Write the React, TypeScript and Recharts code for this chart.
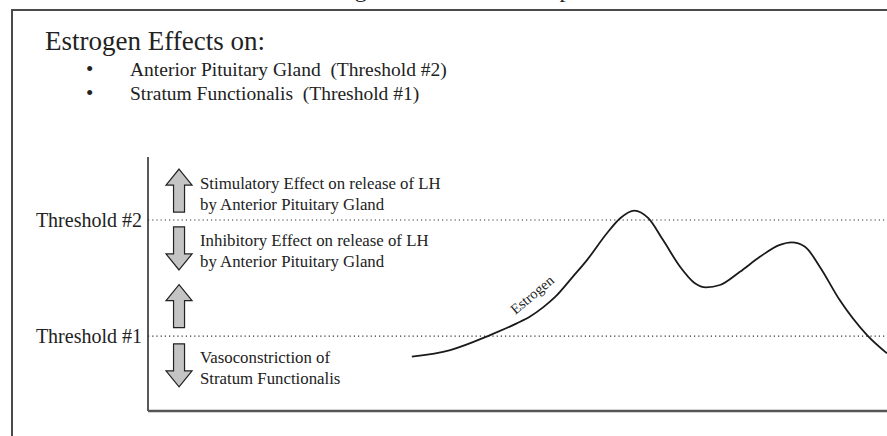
import React from 'react';
import { LineChart, Line, XAxis, YAxis, ReferenceLine, ReferenceDot } from 'recharts';

// estrogen curve, x = time (0..100), y = level (0..100)
const curveX = [35.7, 40.9, 46.3, 49.9, 51.7, 53.5, 55.1, 57.5, 59.4, 62.1, 63.9, 65.8, 67.7, 69.7, 72.0, 74.0, 75.5, 77.4, 80.1, 82.8, 85.5, 87.1, 88.9, 90.9, 93.6, 97.3, 100];
const curveY = [21.4, 24.0, 29.9, 34.5, 37.2, 40.9, 44.9, 52.9, 59.4, 70.0, 75.9, 78.9, 75.9, 67.3, 56.8, 50.3, 48.7, 49.6, 54.8, 60.7, 65.4, 66.4, 64.7, 56.8, 43.7, 29.9, 22.7];

const thresholdNames = ['Threshold #2', 'Threshold #1'];
const thresholdLevels = [75.2, 29.5];

const arrowX = 4.2;
const arrowDirs = ['up', 'down', 'up', 'down'];
const arrowLevels = [86.8, 64.0, 41.3, 18.0];
const arrowNotes = [
    ['Stimulatory Effect on release of LH', 'by Anterior Pituitary Gland'],
    ['Inhibitory Effect on release of LH', 'by Anterior Pituitary Gland'],
    [],
    ['Vasoconstriction of', 'Stratum Functionalis'],
];

const curveLabel = 'Estrogen';
const curveLabelAt = { x: 52.4, y: 44.3 };

const heading = 'Estrogen Effects on:';
const bullets = ['Anterior Pituitary Gland\u00a0 (Threshold #2)', 'Stratum Functionalis\u00a0 (Threshold #1)'];
const pageTitle = 'Estrogen Threshold Concept';

const data = curveX.map((x, i) => ({ x, y: curveY[i] }));
const serif = "'Liberation Serif', 'Times New Roman', serif";
const txt = { fontFamily: serif, fill: '#222' };

const Arrow = (props: any) => {
    const { cx, cy, dir, notes } = props;
    const h = 21.5;
    const hw = 13;
    const sw = 5.5;
    const s = dir === 'up' ? 1 : -1;
    const neck = cy - s * 5.5;
    const pts = [
        [cx, cy - s * h],
        [cx + hw, neck],
        [cx + sw, neck],
        [cx + sw, cy + s * h],
        [cx - sw, cy + s * h],
        [cx - sw, neck],
        [cx - hw, neck],
    ]
        .map((p) => p.join(','))
        .join(' ');
    return (
        <g>
            <polygon points={pts} fill="#c4c4c4" stroke="#222" strokeWidth={1.2} />
            {notes.map((t: string, i: number) => (
                <text key={i} x={cx + 21} y={cy - 2 + i * 21} fontSize={16.8} style={txt}>
                    {t}
                </text>
            ))}
        </g>
    );
};

const CurveLabel = (props: any) => {
    const { cx, cy } = props;
    return (
        <text x={cx} y={cy} transform={`rotate(-40 ${cx} ${cy})`} textAnchor="middle" fontSize={14.5} style={txt}>
            {curveLabel}
        </text>
    );
};

export default function App() {
    return (
        <div style={{ position: 'absolute', left: 0, top: 0, width: 887, height: 436, overflow: 'hidden', background: '#fff' }}>
            <div style={{ position: 'absolute', left: 11, top: 8.5, width: 950, height: 500, border: '2px solid #4a4a4a' }} />
            <svg width={887} height={436} style={{ position: 'absolute', left: 0, top: 0 }}>
                <text x={304} y={-3} fontSize={24} style={txt}>
                    {pageTitle}
                </text>
                <text x={45} y={50} fontSize={27} style={txt}>
                    {heading}
                </text>
                {bullets.map((b, i) => (
                    <g key={b}>
                        <text x={86} y={76 + i * 23.5} fontSize={21} style={txt}>
                            •
                        </text>
                        <text x={130} y={76 + i * 23.5} fontSize={19.5} style={txt}>
                            {b}
                        </text>
                    </g>
                ))}
            </svg>
            <div style={{ position: 'absolute', left: 0, top: 0 }}>
                <LineChart width={887} height={436} data={data} margin={{ top: 157, right: 0, bottom: 25, left: 148 }}>
                    <XAxis type="number" dataKey="x" domain={[0, 100]} hide />
                    <YAxis type="number" domain={[0, 100]} hide />
                    <ReferenceLine x={0} stroke="#222" strokeWidth={1.5} />
                    <ReferenceLine y={0} stroke="#555" strokeWidth={2.5} />
                    {thresholdNames.map((name, i) => (
                        <ReferenceLine
                            key={name}
                            y={thresholdLevels[i]}
                            stroke="#333"
                            strokeWidth={1.2}
                            strokeDasharray="1.2 3"
                            label={{ value: name, position: 'left', offset: 6, fontSize: 20, fill: '#222', fontFamily: serif }}
                        />
                    ))}
                    {arrowLevels.map((lv, i) => (
                        <ReferenceDot
                            key={i}
                            x={arrowX}
                            y={lv}
                            r={1}
                            shape={(p: any) => <Arrow {...p} dir={arrowDirs[i]} notes={arrowNotes[i]} />}
                        />
                    ))}
                    <Line
                        type="monotone"
                        dataKey="y"
                        stroke="#1a1a1a"
                        strokeWidth={1.8}
                        dot={false}
                        activeDot={false}
                        isAnimationActive={false}
                    />
                    <ReferenceDot x={curveLabelAt.x} y={curveLabelAt.y} r={1} shape={(p: any) => <CurveLabel {...p} />} />
                </LineChart>
            </div>
        </div>
    );
}
